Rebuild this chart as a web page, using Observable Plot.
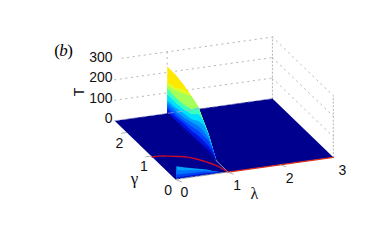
<!DOCTYPE html>
<html>
<head>
<meta charset="utf-8">
<script src="https://cdn.jsdelivr.net/npm/d3@7"></script>
<script src="https://cdn.jsdelivr.net/npm/@observablehq/plot@0.6"></script>
<style>html,body{margin:0;padding:0;background:#fff}svg{display:block}</style>
</head>
<body>
<div id="chart"></div>
<script>
// Axis ticks
const lambdaTicks = [0, 1, 2, 3];
const gammaTicks = [0, 1, 2];
const tempTicks = [0, 100, 200, 300];
const lambdaMax = 3, gammaMax = 2.5, tempMax = 300;

// Sheet along lambda = 1: stations in gamma and the T reached by each colour band
const ridgeGamma = [2.5, 2.16, 1.83, 1.5, 1.22, 1.01, 0.8, 0.64, 0.48];
const ridgeYellow = [229, 228, 218, 198, 178, 135, 94, 45, 0];
const ridgeYellow2 = [156, 164, 194, 198, 178, 135, 94, 45, 0];
const ridgeLime = [137, 150, 174, 198, 178, 135, 94, 45, 0];
const ridgeAqua = [122, 116, 120, 135, 178, 135, 94, 45, 0];
const ridgeCyan = [93, 91, 96, 110, 144, 135, 94, 45, 0];
const ridgeSky = [63, 67, 77, 86, 110, 115, 94, 45, 0];
const ridgeBlue = [49, 52, 57, 71, 85, 86, 75, 45, 0];
const ridgeBlue2 = [34, 36, 42, 50, 61, 60, 60, 40, 0];
const ridgeBlue3 = [20, 22, 28, 30, 37, 37, 36, 30, 0];
const ridgeDark = [5, 6, 8, 10, 12, 14, 16, 11, 0];

// Low sheet along gamma close to 0
const lowGamma = 0.03;
const lowLambda = [0.03, 0.2, 0.4, 0.6, 0.8, 0.9, 1];
const lowSky = [60, 48, 36, 24, 6, 0, 0];
const lowBlue = [40, 34, 28, 20, 5, 0, 0];
const lowBlue2 = [20, 18, 16, 14, 4, 0, 0];
const lowDark = [5, 5, 5, 5, 3, 0, 0];

// Red critical curve
const arcLambda = [0, 0.12, 0.286, 0.45, 0.579, 0.7, 0.824, 0.92, 1];
const arcGamma = [0.96, 0.955, 0.905, 0.84, 0.77, 0.65, 0.478, 0.3, 0];

// Fixed view of the 3D box
const X = (l, g) => l - 0.463 * g;
const Y = (l, g, t) => t + 36.1 * l + 114.6 * g;
const pt = (l, g, t) => ({x: X(l, g), y: Y(l, g, t)});

const ridgeBands = [
  [ridgeYellow, "#ffe800"], [ridgeYellow2, "#dcff28"], [ridgeLime, "#a4ff5a"],
  [ridgeAqua, "#3cffbc"], [ridgeCyan, "#00e0ff"], [ridgeSky, "#00a4ff"],
  [ridgeBlue, "#0070ff"], [ridgeBlue2, "#0040ff"], [ridgeBlue3, "#0014dc"], [ridgeDark, "#0000a8"]
];
const lowBands = [
  [lowSky, "#00a4ff"], [lowBlue, "#0074ff"], [lowBlue2, "#0040f4"], [lowDark, "#0010c4"]
];
const ridgePoly = (ts) => [...ridgeGamma.map((g, i) => pt(1, g, ts[i])), ...ridgeGamma.slice().reverse().map((g) => pt(1, g, 0))];
const lowPoly = (ts) => [...lowLambda.map((l, i) => pt(l, lowGamma, ts[i])), ...lowLambda.slice().reverse().map((l) => pt(l, lowGamma, 0))];

const plane = [pt(0, 0, 0), pt(lambdaMax, 0, 0), pt(lambdaMax, gammaMax, 0), pt(0, gammaMax, 0)];
const dots = {stroke: "#b4b4b4", strokeWidth: 1, strokeDasharray: "1.2 4.4"};
const grid = [];
for (const t of tempTicks.slice(1)) {
  grid.push([pt(t === 300 ? 0.14 : 0, gammaMax, t), pt(lambdaMax, gammaMax, t)]);
  grid.push([pt(lambdaMax, gammaMax, t), pt(lambdaMax, 0, t)]);
}
grid.push([pt(1, gammaMax, tempMax), pt(1, gammaMax, 229)]);
const verticals = [
  [pt(lambdaMax, gammaMax, 0), pt(lambdaMax, gammaMax, tempMax)],
  [pt(lambdaMax, 0, 0), pt(lambdaMax, 0, tempMax)]
];

const tick = "#9a9a9a";
const tickLines = [
  ...[1, 2].map((l) => [pt(l, 0, 0), pt(l + 0.05, -0.1, 0)]),
  ...[1, 2].map((g) => [pt(0, g, 0), pt(-0.1, g, 0)]),
  [pt(0, 0, 0), pt(0.06, -0.12, 0)]
];

const labelFont = {fontFamily: "Liberation Sans, Arial, sans-serif", fontSize: 14, fill: "#111"};
const serif = "Liberation Serif, serif";
const path = (pts, o) => Plot.line(pts, {x: "x", y: "y", ...o});

const chart = Plot.plot({
  width: 373, height: 245,
  margin: 0,
  style: {background: "#fff", overflow: "visible"},
  x: {domain: [0, 3], range: [175, 332.8], axis: null},
  y: {domain: [0, 100], range: [179, 158.5], axis: null},
  marks: [
    ...grid.map((g) => path(g, dots)),
    ...verticals.map((g) => path(g, {...dots, strokeDasharray: "1.2 2.4"})),
    path(plane, {fill: "#00008e", stroke: "none"}),
    ...lowBands.map(([ts, c]) => path(lowPoly(ts), {fill: c, stroke: "none"})),
    ...ridgeBands.map(([ts, c]) => path(ridgePoly(ts), {fill: c, stroke: "none"})),
    path([pt(1, gammaMax, 0), pt(1, 0.5, 0)], {stroke: "#00008e", strokeWidth: 1.2}),
    path([pt(0, gammaMax, 0), pt(lambdaMax, gammaMax, 0)], {stroke: "#a8acd0", strokeWidth: 0.7, strokeDasharray: "5 4"}),
    path([pt(1, 0.5, 0), pt(1, 0, 0)], {stroke: "#9a9ab8", strokeWidth: 1}),
    path(arcLambda.map((l, i) => pt(l, arcGamma[i], 0)), {stroke: "#c40d2c", strokeWidth: 1.4, curve: "catmull-rom"}),
    path([pt(1, 0, 0), pt(3, 0, 0)], {stroke: "#d8301c", strokeWidth: 1.3}),
    path([pt(0, 0, 0), pt(1, 0, 0)], {stroke: "#b0b0b0", strokeWidth: 1, strokeDasharray: "3 2"}),
    ...tickLines.map((t) => path(t, {stroke: tick, strokeWidth: 0.8})),
    Plot.text(tempTicks, {x: () => X(0, gammaMax), y: (t) => Y(0, gammaMax, t), text: String, textAnchor: "end", dx: -2, dy: -2, ...labelFont}),
    Plot.text(lambdaTicks, {x: (l) => X(l, 0), y: (l) => Y(l, 0, 0), text: String, dx: 9, dy: 13.5, ...labelFont}),
    Plot.text(gammaTicks, {x: (g) => X(0, g), y: (g) => Y(0, g, 0), text: String, dx: -7.3, dy: 11, ...labelFont}),
    Plot.text(["T"], {x: () => X(0, gammaMax), y: () => Y(0, gammaMax, 140), dx: -35, rotate: -90, ...labelFont}),
    Plot.text(["\u03bb"], {x: () => X(1.5, 0), y: () => Y(1.5, 0, 0), dy: 25, ...labelFont, fontFamily: serif, fontSize: 16}),
    Plot.text(["\u03b3"], {x: () => X(0, 0.9), y: () => Y(0, 0.9, 0), dx: -19, dy: 20, ...labelFont, fontFamily: serif, fontSize: 17}),
    Plot.text(["b"], {x: () => X(0, gammaMax), y: () => Y(0, gammaMax, 340), dx: -51, dy: -1, fontFamily: serif, fontStyle: "italic", fontSize: 17, fill: "#000"}),
    Plot.text(["("], {x: () => X(0, gammaMax), y: () => Y(0, gammaMax, 340), dx: -57.5, dy: -1, fontFamily: serif, fontSize: 17, fill: "#000"}),
    Plot.text([")"], {x: () => X(0, gammaMax), y: () => Y(0, gammaMax, 340), dx: -44.5, dy: -1, fontFamily: serif, fontSize: 17, fill: "#000"})
  ]
});
document.getElementById("chart").appendChild(chart);
</script>
</body>
</html>
